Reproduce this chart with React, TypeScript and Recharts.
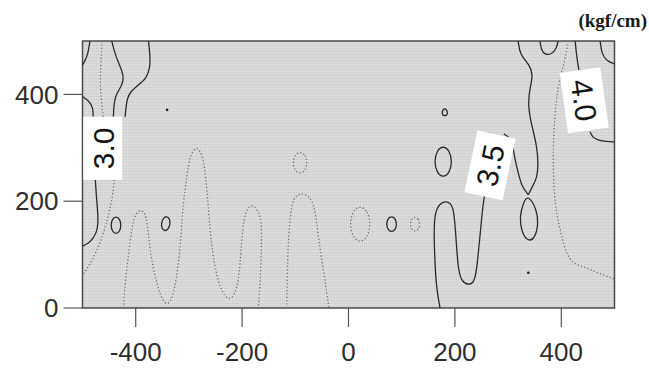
import { ComposedChart, Line, Scatter, XAxis, YAxis, ReferenceArea } from 'recharts'

type Pt = [number, number]

// axis ticks
const xTicks = [-400, -200, 0, 200, 400]
const yTicks = [0, 200, 400]
const unitLabel = '(kgf/cm)'

// solid contour lines (open)
const solidTopLeftArc: Pt[] = [[-486, 500], [-490, 474], [-496, 462], [-500, 455]]
const solidLeftIntoLabel: Pt[] = [[-500, 396], [-488, 388], [-480, 375], [-480, 358]]
const solidLeftBulge: Pt[] = [[-445, 500], [-440, 480], [-432, 458], [-424, 440], [-423, 425], [-430, 410], [-438, 398], [-441, 380], [-442, 358]]
const solidLeftStep: Pt[] = [[-376, 500], [-373, 474], [-373, 449], [-380, 430], [-395, 418], [-410, 405], [-416, 392], [-418, 378], [-420, 358]]
const solidBelowLabel: Pt[] = [[-476, 240], [-473, 197], [-470, 165], [-473, 140], [-486, 122], [-500, 116]]
const solidFinger: Pt[] = [[172, 0], [166, 34], [163, 71], [161, 127], [161, 165], [166, 189], [178, 200], [190, 198], [198, 187], [202, 133], [206, 71], [213, 49], [225, 43], [236, 47], [241, 71], [247, 133], [253, 197], [257, 217]]
const solidRightS: Pt[] = [[319, 500], [322, 474], [341, 455], [347, 436], [341, 412], [337, 380], [344, 343], [354, 305], [357, 268], [354, 243], [347, 230], [338, 212]]
const solidPinchUp: Pt[] = [[338, 212], [326, 227], [319, 253], [313, 277], [309, 305], [302, 320], [292, 326]]
const solidTopU: Pt[] = [[360, 500], [362, 484], [369, 474], [382, 475], [391, 486], [394, 500]]
const solidIntoFour: Pt[] = [[426, 500], [429, 470], [433, 446]]
const solidCornerArc: Pt[] = [[473, 500], [476, 476], [485, 463], [500, 457]]
const solidBelowFour: Pt[] = [[454, 330], [459, 319], [470, 314], [485, 312], [500, 311]]

// dotted contour lines (open)
const dotLeftVertical: Pt[] = [[-463, 500], [-465, 464], [-467, 427], [-465, 390], [-461, 358]]
const dotBelowLabel: Pt[] = [[-440, 240], [-444, 205], [-452, 170], [-462, 135], [-478, 95], [-500, 60]]
const dotWave: Pt[] = [[-423, 0], [-421, 34], [-417, 71], [-408, 146], [-403, 169], [-395, 183], [-386, 182], [-379, 170], [-373, 103], [-361, 47], [-349, 10], [-335, 4], [-323, 52], [-315, 127], [-311, 197], [-304, 245], [-298, 287], [-285, 305], [-273, 283], [-268, 240], [-264, 197], [-257, 103], [-242, 34], [-223, 10], [-210, 34], [-204, 71], [-198, 178], [-182, 197], [-168, 180], [-163, 159], [-164, 90], [-168, 15], [-170, 0]]
const dotFingerD: Pt[] = [[-116, 0], [-115, 71], [-113, 133], [-107, 197], [-99, 210], [-88, 215], [-74, 210], [-63, 189], [-57, 133], [-47, 71], [-38, 9], [-37, 0]]
const dotRightLong: Pt[] = [[413, 500], [407, 464], [398, 433], [390, 390], [386, 333], [384, 272], [388, 189], [398, 146], [413, 84], [445, 77], [467, 66], [495, 56], [500, 54]]

// closed loops
const solidLoopA: Pt[] = [[-437, 172], [-430, 167], [-427, 155], [-430, 143], [-437, 138], [-444, 143], [-447, 155], [-444, 167]]
const solidLoopB: Pt[] = [[-342, 172], [-336, 168], [-335, 157], [-339, 147], [-345, 144], [-351, 148], [-352, 159], [-348, 169]]
const solidLoopC: Pt[] = [[81, 172], [88, 168], [91, 157], [88, 146], [81, 142], [74, 146], [71, 157], [74, 168]]
const solidLoopD: Pt[] = [[181, 376], [187, 367], [185, 360], [177, 360], [175, 367]]
const solidLoopE: Pt[] = [[178, 304], [190, 295], [195, 274], [190, 253], [178, 244], [166, 253], [161, 274], [166, 295]]
const solidLoopPinch: Pt[] = [[338, 212], [354, 184], [357, 159], [351, 131], [338, 124], [326, 140], [321, 170], [329, 199]]
const dotLoopA: Pt[] = [[-91, 293], [-81, 287], [-77, 272], [-81, 257], [-91, 251], [-101, 257], [-105, 272], [-101, 287]]
const dotLoopB: Pt[] = [[22, 192], [36, 182], [42, 157], [36, 132], [22, 122], [8, 132], [2, 157], [8, 182]]
const dotLoopC: Pt[] = [[125, 171], [132, 167], [134, 157], [132, 147], [125, 143], [118, 147], [116, 157], [118, 167]]

// contour labels
const labelX = [-462, 266, 443]
const labelY = [299, 267, 389]
const labelText = ['3.0', '3.5', '4.0']

// specks in the scan
const speckX = [-341, 338]
const speckY = [371, 66]

const solidOpen = [solidTopLeftArc, solidLeftIntoLabel, solidLeftBulge, solidLeftStep, solidBelowLabel, solidFinger, solidRightS, solidPinchUp, solidTopU, solidIntoFour, solidCornerArc, solidBelowFour]
const dottedOpen = [dotLeftVertical, dotBelowLabel, dotWave, dotFingerD, dotRightLong]
const solidClosed = [solidLoopA, solidLoopB, solidLoopC, solidLoopD, solidLoopE, solidLoopPinch]
const dottedClosed = [dotLoopA, dotLoopB, dotLoopC]

const toRows = (pts: Pt[]) => pts.map(([x, y]) => ({ x, y }))
const labels = labelText.map((text, i) => ({ x: labelX[i], y: labelY[i], text }))
const specks = speckX.map((x, i) => ({ x, y: speckY[i] }))

const LABEL_STYLE: Record<string, { angle: number; w: number; h: number }> = {
  '3.0': { angle: -90, w: 63, h: 39 },
  '3.5': { angle: -78, w: 63, h: 39 },
  '4.0': { angle: 82, w: 61, h: 41 },
}

const FONT = '"Liberation Sans", Arial, Helvetica, sans-serif'
const SOLID = '#2b2b2b'
const DOTTED = '#6e6e6e'

function ContourLabel(props: any) {
  const { cx, cy, payload } = props
  const s = LABEL_STYLE[payload.text]
  return (
    <g transform={`translate(${cx},${cy}) rotate(${s.angle})`}>
      <rect x={-s.w / 2} y={-s.h / 2} width={s.w} height={s.h} fill="#fff" />
      <text x={0} y={0} dy="0.36em" textAnchor="middle" fontSize={30} fontFamily={FONT} fill="#141414">
        {payload.text}
      </text>
    </g>
  )
}

export default function App() {
  let k = 0
  return (
    <div style={{ position: 'absolute', left: 0, top: 0, width: 649, height: 370, background: '#fff' }}>
      <svg width={0} height={0} style={{ position: 'absolute' }}>
        <defs>
          <pattern id="tone" width={2} height={3} patternUnits="userSpaceOnUse">
            <rect width={2} height={3} fill="#dadada" />
            <rect width={1} height={1} fill="#c9c9c9" />
          </pattern>
        </defs>
      </svg>
      <ComposedChart width={649} height={370} margin={{ top: 41, right: 34.5, bottom: 0, left: 0 }}>
        <XAxis
          dataKey="x"
          type="number"
          domain={[-500, 500]}
          ticks={xTicks}
          allowDataOverflow
          axisLine={false}
          tickSize={19}
          tickMargin={16}
          height={62}
          tickLine={{ stroke: '#555', strokeWidth: 1.2 }}
          tick={{ fontSize: 26, fill: '#2e2e2e', fontFamily: FONT }}
        />
        <YAxis
          dataKey="y"
          type="number"
          domain={[0, 500]}
          ticks={yTicks}
          allowDataOverflow
          axisLine={false}
          tickSize={19}
          tickMargin={5}
          width={82.5}
          tickLine={{ stroke: '#555', strokeWidth: 1.2 }}
          tick={{ fontSize: 26, fill: '#2e2e2e', fontFamily: FONT }}
        />
        <ReferenceArea x1={-500} x2={500} y1={0} y2={500} fill="#d6d6d6" fillOpacity={1} stroke="none" />
        <ReferenceArea x1={-500} x2={500} y1={0} y2={500} fill="url(#tone)" fillOpacity={1} stroke="#4a4a4a" strokeWidth={1.5} />

        {dottedOpen.map(pts => (
          <Line key={`do${k++}`} data={toRows(pts)} dataKey="y" type="basis" stroke={DOTTED} strokeWidth={1.3}
            strokeDasharray="1.2 2.2" dot={false} activeDot={false} isAnimationActive={false} />
        ))}
        {dottedClosed.map(pts => (
          <Line key={`dc${k++}`} data={toRows(pts)} dataKey="y" type="basisClosed" stroke={DOTTED} strokeWidth={1.3}
            strokeDasharray="1.2 2.2" dot={false} activeDot={false} isAnimationActive={false} />
        ))}
        {solidOpen.map(pts => (
          <Line key={`so${k++}`} data={toRows(pts)} dataKey="y" type="basis" stroke={SOLID} strokeWidth={1.3}
            dot={false} activeDot={false} isAnimationActive={false} />
        ))}
        {solidClosed.map(pts => (
          <Line key={`sc${k++}`} data={toRows(pts)} dataKey="y" type="basisClosed" stroke={SOLID} strokeWidth={1.3}
            dot={false} activeDot={false} isAnimationActive={false} />
        ))}

        <Scatter data={specks} dataKey="y" isAnimationActive={false}
          shape={(p: any) => <circle cx={p.cx} cy={p.cy} r={1.3} fill="#222" />} />
        <Scatter data={labels} dataKey="y" isAnimationActive={false} shape={ContourLabel} />
      </ComposedChart>
      <svg width={649} height={370} style={{ position: 'absolute', left: 0, top: 0, pointerEvents: 'none' }}>
        <text x={647} y={26.5} textAnchor="end" fontSize={19} fontWeight="bold" fontFamily='"Liberation Serif", "Times New Roman", serif' fill="#1a1a1a">
          {unitLabel}
        </text>
      </svg>
    </div>
  )
}
